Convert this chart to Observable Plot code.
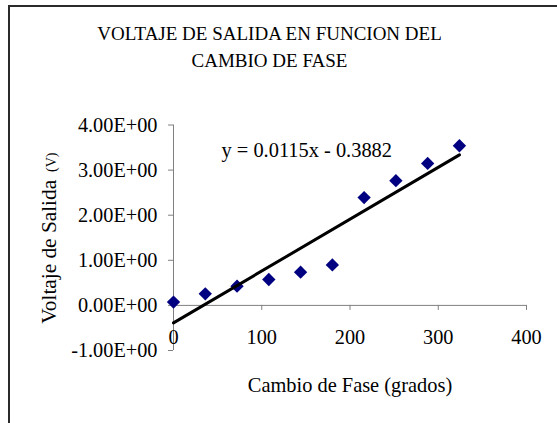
<!DOCTYPE html>
<html>
<head>
<meta charset="utf-8">
<script src="https://cdn.jsdelivr.net/npm/d3@7"></script>
<script src="https://cdn.jsdelivr.net/npm/@observablehq/plot@0.6"></script>
<style>
  html, body { margin: 0; padding: 0; background: white; }
  #wrap { position: relative; width: 557px; height: 423px; overflow: hidden; }
  #border { position: absolute; left: 8px; top: 5px; width: 700px; height: 600px;
            border-left: 2px solid #2b2b2b; border-top: 2px solid #2b2b2b; pointer-events: none; }
  #chart { position: absolute; left: 0; top: 0; }
  #chart svg, #chart svg text { font-family: "Liberation Serif", "Times New Roman", "DejaVu Serif", serif !important; }
</style>
</head>
<body>
<div id="wrap"><div id="chart"></div><div id="border"></div></div>
<script>
// ---- data ----
const phase = [0, 36, 72, 108, 144, 180, 216, 252, 288, 324];           // grados
const voltage = [0.073, 0.257, 0.427, 0.575, 0.737, 0.898, 2.39, 2.765, 3.148, 3.54]; // V
const trendSlope = [0.0115];
const trendIntercept = [-0.3882];
const xTicks = [0, 100, 200, 300, 400];
const yTicks = [-1, 0, 1, 2, 3, 4];
const titleLines = ["VOLTAJE DE SALIDA EN FUNCION DEL", "CAMBIO DE FASE"];
const equationText = ["y = 0.0115x - 0.3882"];
const xLabel = ["Cambio de Fase (grados)"];
const yLabel = ["Voltaje de Salida"];
const yUnit = ["(V)"];

const points = phase.map((x, i) => ({x, y: voltage[i]}));
const trend = d3.extent(phase).map(x => ({x, y: trendSlope[0] * x + trendIntercept[0]}));

const FONT = "Liberation Serif";
const AXIS = "#808080";

const chart = Plot.plot({
  width: 557,
  height: 423,
  marginLeft: 173,
  marginRight: 31,
  marginTop: 124.5,
  marginBottom: 73,
  x: {domain: [0, 400]},
  y: {domain: [-1, 4]},
  style: {fontFamily: FONT, fontSize: "20.3px", background: "white", color: "black", overflow: "visible"},
  marks: [
    // axis lines
    Plot.ruleX([0], {stroke: AXIS, strokeWidth: 1}),
    Plot.ruleY([0], {stroke: AXIS, strokeWidth: 1}),
    // x tick marks (downward from y = 0)
    Plot.ruleX(xTicks, {x: d => d, y1: () => 0, y2: () => 0, insetBottom: -5, stroke: AXIS}),
    // y axis
    Plot.axisY(yTicks, {anchor: "left", tickSize: 5, tickPadding: 11, stroke: AXIS, fill: "black",
      tickFormat: d => d.toFixed(2) + "E+00", label: null}),
    // x tick labels
    Plot.axisX(xTicks, {anchor: "bottom", tickSize: 0, tickPadding: 0, dy: -21, fill: "black",
      tickFormat: d => String(d), label: null}),
    // data
    Plot.dot(points, {x: "x", y: "y", symbol: "diamond2", r: 6, fill: "#000080", stroke: "none"}),
    Plot.line(trend, {x: "x", y: "y", stroke: "black", strokeWidth: 3}),
    // equation
    Plot.text(equationText, {frameAnchor: "top-left", dx: 48, dy: 32.2, lineAnchor: "bottom",
      textAnchor: "start", fontSize: 20.4, fill: "black"}),
    // title
    Plot.text([titleLines[0]], {frameAnchor: "top-left", dx: 96, dy: -85, lineAnchor: "bottom",
      textAnchor: "middle", fontSize: 19, fill: "black"}),
    Plot.text([titleLines[1]], {frameAnchor: "top-left", dx: 96, dy: -58.5, lineAnchor: "bottom",
      textAnchor: "middle", fontSize: 19, fill: "black"}),
    // axis titles
    Plot.text(xLabel, {frameAnchor: "bottom", dy: 41.5, lineAnchor: "bottom", textAnchor: "middle",
      fontSize: 20.4, fill: "black"}),
    Plot.text(yLabel, {frameAnchor: "top-left", dx: -118, dy: 198.8, rotate: -90, lineAnchor: "bottom",
      textAnchor: "start", fontSize: 21.3, fill: "black"}),
    Plot.text(yUnit, {frameAnchor: "top-left", dx: -117.5, dy: 47, rotate: -90, lineAnchor: "bottom",
      textAnchor: "start", fontSize: 14, fill: "black"})
  ]
});
document.getElementById("chart").appendChild(chart);
</script>
</body>
</html>
